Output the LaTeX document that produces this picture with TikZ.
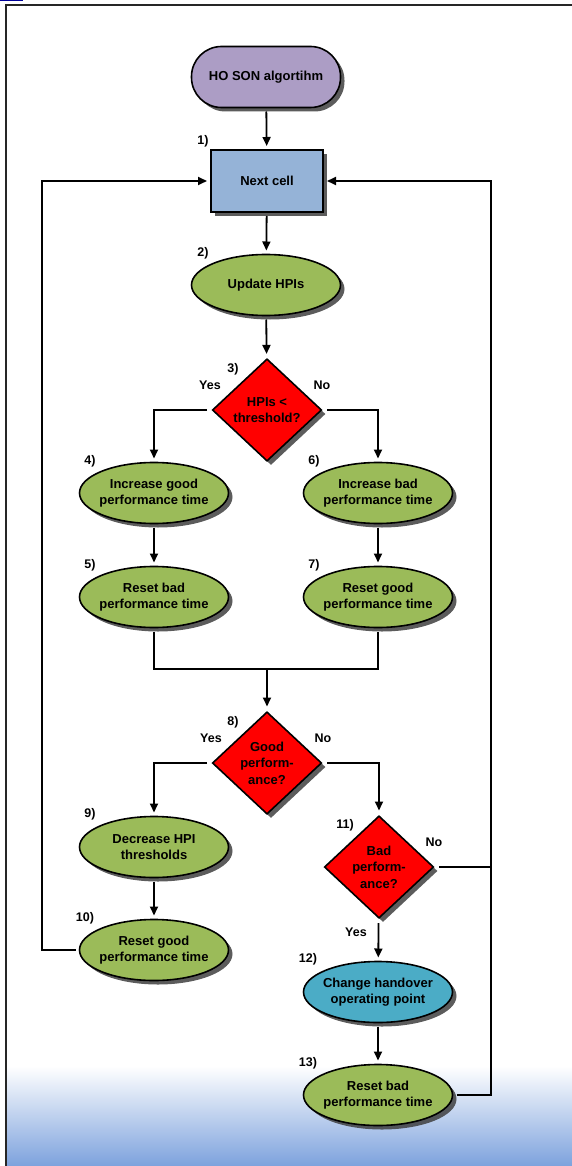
\documentclass[tikz,border=0pt]{standalone}
\usepackage{fontspec}
\setmainfont{Liberation Sans}
\usetikzlibrary{shapes.geometric,arrows.meta,shadows}
\definecolor{startcol}{RGB}{172,157,197}
\definecolor{cellcol}{RGB}{149,179,215}
\definecolor{stepcol}{RGB}{155,187,89}
\definecolor{askcol}{RGB}{255,0,0}
\definecolor{changecol}{RGB}{75,172,198}
\definecolor{bgcol}{RGB}{125,162,221}
\begin{document}
\begin{tikzpicture}[x=1pt,y=-1pt,
  font=\fontsize{13}{16.5}\selectfont\bfseries,
  box/.style={draw,line width=1.6pt,align=center,outer sep=4pt,
    drop shadow={shadow xshift=4pt,shadow yshift=-4pt,fill=black!75,opacity=.85}},
  oval/.style={box,ellipse,fill=stepcol,minimum width=149pt,minimum height=61pt,inner xsep=-10pt,inner ysep=0pt},
  ask/.style={box,diamond,fill=askcol,minimum width=112pt,minimum height=105pt,inner sep=0pt},
  num/.style={font=\fontsize{12.5}{14}\selectfont\bfseries,inner sep=0pt},
  arr/.style={line width=1.8pt,-{Triangle[length=9pt,width=8pt]}},
  ln/.style={line width=1.8pt}]
\useasboundingbox(0,0)rectangle(572,1166);
%background
\shade[top color=white,bottom color=bgcol](6,1066)rectangle(572,1166);
\fill[blue!60!black](0,0)rectangle(23,1.5);
\draw[line width=2pt,black!85](5.5,1166)--(5.5,5.5)--(572,5.5);
%nodes
\node[box,fill=startcol,rounded corners=30pt,minimum width=149pt,minimum height=61pt](start)at(266,77){HO SON algortihm};
\node[box,fill=cellcol,minimum width=112pt,minimum height=62pt](next)at(267,181){Next cell};
\node[oval](upd)at(266,285){Update HPIs};
\node[ask](d1)at(267,410){HPIs <\\threshold?};
\node[oval](e4)at(154,493){Increase good\\performance time};
\node[oval](e6)at(378,493){Increase bad\\performance time};
\node[oval](e5)at(154,597){Reset bad\\performance time};
\node[oval](e7)at(378,597){Reset good\\performance time};
\node[ask](d2)at(267,763){Good\\perform-\\ance?};
\node[oval](e9)at(154,847){Decrease HPI\\thresholds};
\node[oval](e10)at(154,950){Reset good\\performance time};
\node[ask](d3)at(379,867){Bad\\perform-\\ance?};
\node[oval,fill=changecol](e12)at(378,992){Change handover\\operating point};
\node[oval](e13)at(378,1095){Reset bad\\performance time};
%numbers
\node[num](l1)at(203,141){1)};
\node[num](l2)at(203,253){2)};
\node[num](l3)at(233,369){3)};
\node[num](l4)at(90,461){4)};
\node[num](l6)at(314,461){6)};
\node[num](l5)at(90,565){5)};
\node[num](l7)at(314,565){7)};
\node[num](l8)at(233,722){8)};
\node[num](l9)at(90,814){9)};
\node[num](l10)at(85,918){10)};
\node[num](l11)at(345,825){11)};
\node[num](l12)at(308,959){12)};
\node[num](l13)at(308,1063){13)};
\node[num](y1)at(210,385){Yes};
\node[num](n1)at(322,385){No};
\node[num](y2)at(211,738){Yes};
\node[num](n2)at(323,738){No};
\node[num](n3)at(434,842){No};
\node[num](y3)at(356,932){Yes};
%connectors
\coordinate(mg)at(267,669);
\coordinate(lp)at(42,950);
\coordinate(rp)at(491,1095);
\draw[arr](start)--(next);
\draw[arr](next)--(upd);
\draw[arr](upd)--(d1);
\draw[arr](d1.west)-|(e4.north);
\draw[arr](d1.east)-|(e6.north);
\draw[arr](e4)--(e5);
\draw[arr](e6)--(e7);
\draw[ln](e5.south)|-(mg)-|(e7.south);
\draw[arr](mg)--(d2);
\draw[arr](d2.west)-|(e9.north);
\draw[arr](d2.east)-|(d3.north);
\draw[arr](e9)--(e10);
\draw[arr](d3)--(e12);
\draw[arr](e12)--(e13);
\draw[arr](e10.west)--(lp)|-(next.west);
\draw[arr](e13.east)--(rp)|-(next.east);
\draw[ln](d3.east)--(d3.east-|rp);
\end{tikzpicture}
\end{document}
